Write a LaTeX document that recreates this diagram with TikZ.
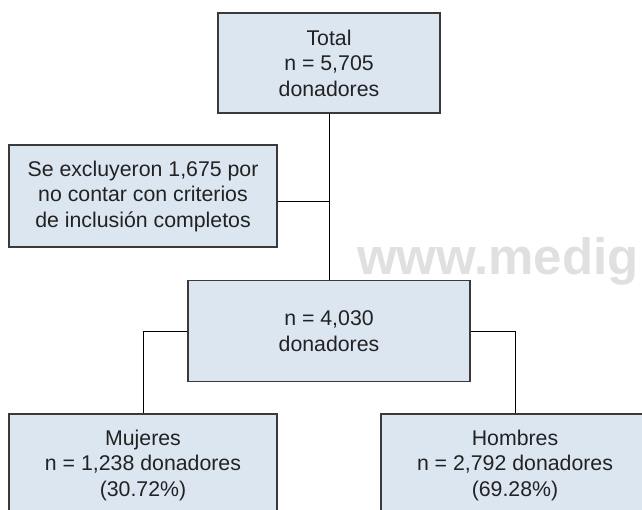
\documentclass[tikz,border=0pt]{standalone}
\usepackage{fontspec}
\setmainfont{Liberation Sans}
\definecolor{boxfill}{HTML}{DCE6F1}
\definecolor{boxline}{HTML}{3A3A3A}
\definecolor{txt}{HTML}{222222}
\definecolor{wm}{HTML}{E0E0E0}
\begin{document}
\begin{tikzpicture}[x=1pt,y=-1pt,
  flowbox/.style={draw=boxline, fill=boxfill, line width=1.3pt, inner sep=0pt,
    align=center, text=txt, font=\fontsize{21.3}{25.5}\selectfont},
  link/.style={draw=black, line width=0.9pt}]
\useasboundingbox (0,0) rectangle (642,509);
\clip (0,0) rectangle (642,509);
\node[anchor=base west, text=wm, font=\fontsize{51}{60}\selectfont\bfseries, inner sep=0pt] (wmark) at (357,274) {www.medig};
\node[flowbox, minimum width=222pt, minimum height=100pt] (total) at (329,63) {Total\\n = 5,705\\donadores};
\node[flowbox, minimum width=268pt, minimum height=102pt] (excl) at (143,196) {Se excluyeron 1,675 por\\no contar con criterios\\de inclusión completos};
\node[flowbox, minimum width=282pt, minimum height=101pt] (mid) at (329,331) {n = 4,030\\donadores};
\node[flowbox, minimum width=268pt, minimum height=102pt] (muj) at (143,465) {Mujeres\\n = 1,238 donadores\\(30.72\%)};
\node[flowbox, minimum width=268pt, minimum height=102pt] (hom) at (515,465) {Hombres\\n = 2,792 donadores\\(69.28\%)};
\coordinate (j) at (329,201);
\draw[link] (total.south) -- (mid.north);
\draw[link] (excl.east |- j) -- (j);
\draw[link] (mid.west) -| (muj.north);
\draw[link] (mid.east) -| (hom.north);
\end{tikzpicture}
\end{document}
